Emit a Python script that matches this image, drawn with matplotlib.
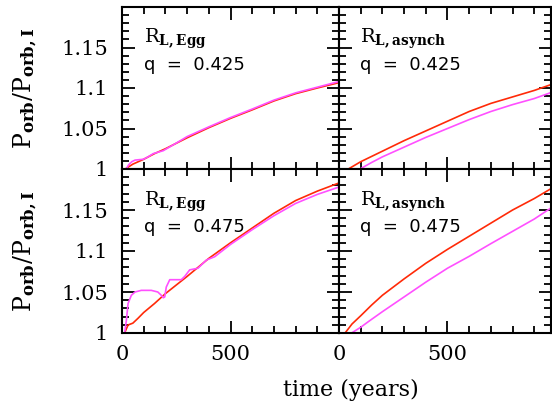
import numpy as np
import matplotlib
matplotlib.use('Agg')
import matplotlib.pyplot as plt
from matplotlib.ticker import MultipleLocator, FuncFormatter

plt.rcParams['font.family'] = 'DejaVu Serif'
plt.rcParams['mathtext.fontset'] = 'dejavuserif'

RED = '#ff2a08'
MAG = '#ff50ff'

# top-left: R_L,Egg, q = 0.425
tl_red_t = [15, 50, 100, 150, 200, 300, 400, 500, 600, 700, 800, 900, 1000]
tl_red_p = [1.0, 1.006, 1.012, 1.019, 1.025, 1.0385, 1.051, 1.0625, 1.073, 1.084, 1.093, 1.100, 1.1066]
tl_mag_t = [20, 30, 45, 60, 98, 120, 144, 190, 250, 300, 400, 500, 600, 700, 800, 900, 1000]
tl_mag_p = [1.0, 1.005, 1.009, 1.011, 1.012, 1.015, 1.019, 1.0226, 1.032, 1.040, 1.052,
            1.0635, 1.074, 1.085, 1.094, 1.101, 1.108]

# top-right: R_L,asynch, q = 0.425
tr_red_t = [43, 100, 200, 300, 400, 500, 600, 700, 800, 900, 980]
tr_red_p = [1.0, 1.009, 1.022, 1.035, 1.047, 1.059, 1.071, 1.081, 1.089, 1.097, 1.1045]
tr_mag_t = [97, 150, 200, 300, 400, 500, 600, 700, 800, 900, 980]
tr_mag_p = [1.0, 1.008, 1.015, 1.027, 1.039, 1.050, 1.061, 1.071, 1.0795, 1.087, 1.0947]

# bottom-left: R_L,Egg, q = 0.475
bl_red_t = [12, 20, 28, 50, 74, 100, 150, 200, 300, 400, 500, 600, 700, 800, 900, 1000]
bl_red_p = [1.0, 1.005, 1.0098, 1.012, 1.018, 1.025, 1.036, 1.048, 1.069, 1.091, 1.110,
            1.128, 1.146, 1.1615, 1.173, 1.183]
bl_mag_t = [12, 20, 28, 43, 60, 89, 135, 165, 181, 190, 197, 204, 220, 250, 273, 289,
            312, 350, 389, 427, 500, 600, 700, 800, 900, 1000]
bl_mag_p = [1.0, 1.015, 1.036, 1.046, 1.050, 1.052, 1.052, 1.050, 1.046, 1.043, 1.044,
            1.056, 1.065, 1.065, 1.065, 1.069, 1.077, 1.079, 1.089, 1.093, 1.108,
            1.126, 1.143, 1.158, 1.169, 1.178]

# bottom-right: R_L,asynch, q = 0.475
br_red_t = [28, 60, 100, 150, 200, 300, 400, 500, 600, 700, 800, 900, 980]
br_red_p = [1.0, 1.011, 1.021, 1.034, 1.046, 1.066, 1.085, 1.102, 1.118, 1.134, 1.150,
            1.164, 1.1765]
br_mag_t = [58, 100, 135, 200, 300, 400, 500, 600, 700, 800, 900, 980]
br_mag_p = [1.0, 1.007, 1.0138, 1.026, 1.044, 1.062, 1.079, 1.0935, 1.109, 1.124, 1.139, 1.153]

panels = [
    (r'$\mathrm{R}_{\mathbf{L,Egg}}$', 'q  =  0.425', tl_red_t, tl_red_p, tl_mag_t, tl_mag_p),
    (r'$\mathrm{R}_{\mathbf{L,asynch}}$', 'q  =  0.425', tr_red_t, tr_red_p, tr_mag_t, tr_mag_p),
    (r'$\mathrm{R}_{\mathbf{L,Egg}}$', 'q  =  0.475', bl_red_t, bl_red_p, bl_mag_t, bl_mag_p),
    (r'$\mathrm{R}_{\mathbf{L,asynch}}$', 'q  =  0.475', br_red_t, br_red_p, br_mag_t, br_mag_p),
]

W, H = 552, 404
fig = plt.figure(figsize=(W / 100, H / 100), dpi=100)

xl = [122, 339]
wd = [217, 212]
yt = [7, 169]
ht = [162, 164]
xmax = [1000, 977]

yfmt = FuncFormatter(lambda v, p: '' if v > 1.18 else '%g' % round(v, 3))
xfmt = FuncFormatter(lambda v, p: '' if v > 900 else '%d' % v)

for k, (name, qtxt, rt, rp, mt, mp) in enumerate(panels):
    r, c = divmod(k, 2)
    ax = fig.add_axes([xl[c] / W, 1 - (yt[r] + ht[r]) / H, wd[c] / W, ht[r] / H])
    ax.plot(rt, rp, color=RED, lw=1.2)
    ax.plot(mt, mp, color=MAG, lw=1.2)
    ax.set_xlim(0, xmax[c])
    ax.set_ylim(1, 1.2)
    ax.xaxis.set_major_locator(MultipleLocator(500))
    ax.xaxis.set_minor_locator(MultipleLocator(100))
    ax.yaxis.set_major_locator(MultipleLocator(0.05))
    ax.yaxis.set_minor_locator(MultipleLocator(0.01))
    ax.yaxis.set_major_formatter(yfmt)
    ax.xaxis.set_major_formatter(xfmt)
    ax.tick_params(which='both', direction='in', top=True, right=True, width=1.3,
                   labelsize=15)
    ax.tick_params(which='major', length=9)
    ax.tick_params(which='minor', length=5)
    ax.tick_params(axis='y', pad=10)
    for s in ax.spines.values():
        s.set_linewidth(1.5)
    if c == 1:
        ax.tick_params(labelleft=False)
    else:
        ax.set_ylabel(r'$\mathrm{P}_{\mathbf{orb}}/\mathrm{P}_{\mathbf{orb,I}}$', fontsize=17, labelpad=16)
    if r == 0:
        ax.tick_params(labelbottom=False)
    else:
        ax.tick_params(axis='x', pad=9)
    ax.text(0.1, 0.875, name, transform=ax.transAxes, fontsize=14, va='top')
    ax.text(0.1, 0.70, qtxt, transform=ax.transAxes, fontsize=13, va='top',
            family='DejaVu Sans')

fig.text(351 / W, 1 - 390 / H, 'time (years)', ha='center', va='center', fontsize=16)

fig.savefig('out.png', dpi=100)
